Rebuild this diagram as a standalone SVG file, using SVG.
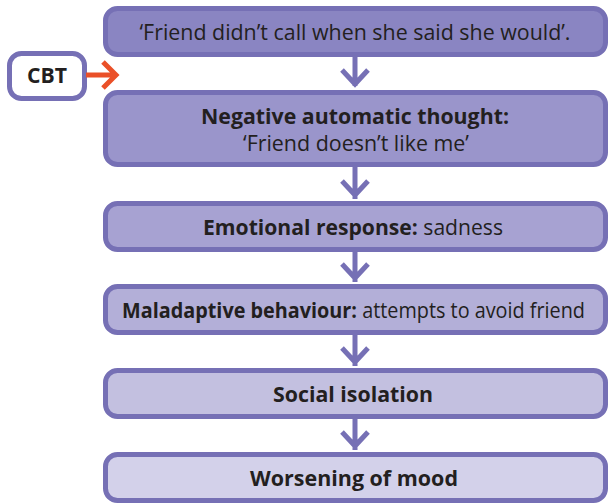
<svg xmlns="http://www.w3.org/2000/svg" width="610" height="504" viewBox="0 0 610 504">
<style>
.box{stroke:#7670b5;stroke-width:5}
.t{font-family:"Open Sans","Liberation Sans",sans-serif;font-size:21px;fill:#231f20;text-anchor:middle}
.b{font-weight:bold}
.c{fill:none;stroke:#7670b5;stroke-width:5}
.o{fill:none;stroke:#ea5028;stroke-width:5}
</style>
<rect width="610" height="504" fill="#fff"/>
<g id="n1">
<rect class="box" x="105.5" y="8.5" width="500" height="46" rx="12" fill="#8a85c2"/>
<text class="t" x="355" y="40" textLength="431" lengthAdjust="spacingAndGlyphs">‘Friend didn’t call when she said she would’.</text>
</g>
<g id="cbt">
<rect class="box" x="9.5" y="53.5" width="75" height="45" rx="12" fill="#fff"/>
<text class="t b" x="47" y="83" textLength="40" lengthAdjust="spacingAndGlyphs">CBT</text>
</g>
<g id="n2">
<rect class="box" x="105.5" y="92.5" width="500" height="72" rx="12" fill="#9a95cb"/>
<text class="t b" x="355" y="124" textLength="308" lengthAdjust="spacingAndGlyphs">Negative automatic thought:</text>
<text class="t" x="356" y="151" textLength="226" lengthAdjust="spacingAndGlyphs">‘Friend doesn’t like me’</text>
</g>
<g id="n3">
<rect class="box" x="105.5" y="203.5" width="500" height="46" rx="12" fill="#a7a2d2"/>
<text class="t" x="353" y="235" textLength="300" lengthAdjust="spacingAndGlyphs"><tspan class="b">Emotional response:</tspan> sadness</text>
</g>
<g id="n4">
<rect class="box" x="105.5" y="286.5" width="500" height="46" rx="12" fill="#b3afd8"/>
<text class="t" x="353.5" y="318" textLength="463" lengthAdjust="spacingAndGlyphs"><tspan class="b">Maladaptive behaviour:</tspan> attempts to avoid friend</text>
</g>
<g id="n5">
<rect class="box" x="105.5" y="370.5" width="500" height="46" rx="12" fill="#c3c0e0"/>
<text class="t b" x="353" y="402" textLength="160" lengthAdjust="spacingAndGlyphs">Social isolation</text>
</g>
<g id="n6">
<rect class="box" x="105.5" y="454.5" width="500" height="46" rx="12" fill="#d3d1ea"/>
<text class="t b" x="354" y="486" textLength="208" lengthAdjust="spacingAndGlyphs">Worsening of mood</text>
</g>
<g id="connectors">
<path class="c" d="M355 57V86M342 70L355 84L368 70"/>
<path class="c" d="M355 167V199M342 181L355 195L368 181"/>
<path class="c" d="M355 252V282M342 264L355 278L368 264"/>
<path class="c" d="M355 335V366M342 348L355 362L368 348"/>
<path class="c" d="M355 419V450M342 432L355 446L368 432"/>
<path class="o" d="M86 75H116M103 62L116 75L103 88"/>
</g>
</svg>
